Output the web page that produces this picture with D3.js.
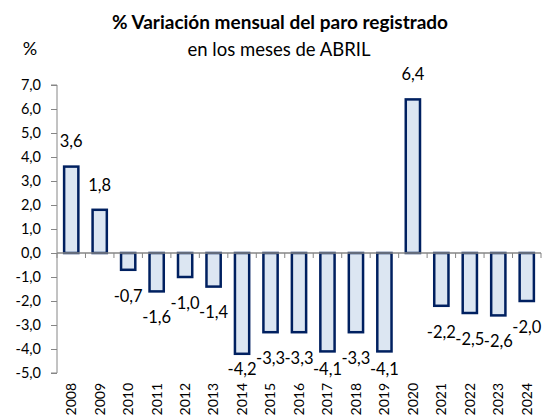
<!DOCTYPE html>
<html>
<head>
<meta charset="utf-8">
<script src="https://cdn.jsdelivr.net/npm/d3@7"></script>
<style>
  body { margin: 0; background: #fff; }
  text { font-family: Lato, "Open Sans", sans-serif; fill: #000; }
</style>
</head>
<body>
<svg id="chart" width="544" height="416"></svg>
<script>
  // years and april monthly change of registered unemployment (%)
  var years = ['2008', '2009', '2010', '2011', '2012', '2013', '2014', '2015', '2016',
    '2017', '2018', '2019', '2020', '2021', '2022', '2023', '2024'];
  var values = [3.6, 1.8, -0.7, -1.6, -1.0, -1.4, -4.2, -3.3, -3.3,
    -4.1, -3.3, -4.1, 6.4, -2.2, -2.5, -2.6, -2.0];
  var yTicks = [7, 6, 5, 4, 3, 2, 1, 0, -1, -2, -3, -4, -5];

  (function() {
    'use strict';

    var svg = d3.select('#chart');
    var plotLeft = 57, plotRight = 541, plotTop = 85, plotBottom = 373;
    var fmt = function(v) { return d3.format('.1f')(v).replace('.', ',').replace('−', '-'); };

    var x = d3.scaleBand().domain(years).range([plotLeft, plotRight]).paddingInner(0.5).paddingOuter(0.25);
    var y = d3.scaleLinear().domain([-5, 7]).range([plotBottom, plotTop]);

    // titles
    svg.append('text').attr('x', 280).attr('y', 29).attr('text-anchor', 'middle')
      .style('font-size', '19px').style('font-weight', 'bold')
      .text('% Variación mensual del paro registrado');
    svg.append('text').attr('x', 279).attr('y', 56).attr('text-anchor', 'middle')
      .style('font-size', '18.5px').text('en los meses de ABRIL');
    svg.append('text').attr('x', 30).attr('y', 55).attr('text-anchor', 'middle')
      .style('font-size', '18px').text('%');

    // y axis
    var yAxis = svg.append('g').attr('transform', 'translate(' + plotLeft + ',0)')
      .call(d3.axisLeft(y).tickValues(yTicks).tickSize(6).tickPadding(10).tickFormat(fmt));
    yAxis.select('.domain').attr('stroke', '#868686')
      .attr('d', 'M-6,' + plotTop + 'H0V' + plotBottom + 'H-6');
    yAxis.selectAll('.tick line').attr('stroke', '#868686');
    yAxis.selectAll('.tick text').style('font-size', '14.5px');

    // bars
    svg.selectAll('.bar').data(values).enter().append('rect')
      .attr('class', 'bar')
      .attr('x', function(d, i) { return x(years[i]); })
      .attr('width', x.bandwidth())
      .attr('y', function(d) { return y(Math.max(0, d)); })
      .attr('height', function(d) { return Math.abs(y(d) - y(0)); })
      .attr('fill', '#dce6f2')
      .attr('stroke', '#002060')
      .attr('stroke-width', 2.5);

    // zero line with category ticks
    var catW = (plotRight - plotLeft) / years.length;
    svg.append('line').attr('x1', plotLeft).attr('x2', plotRight).attr('y1', y(0)).attr('y2', y(0))
      .attr('stroke', '#868686').attr('stroke-width', 1.5);
    svg.selectAll('.ctick').data(d3.range(years.length + 1)).enter().append('line')
      .attr('x1', function(i) { return plotLeft + i * catW; })
      .attr('x2', function(i) { return plotLeft + i * catW; })
      .attr('y1', y(0)).attr('y2', y(0) + 5)
      .attr('stroke', '#868686');

    // value labels
    svg.selectAll('.lbl').data(values).enter().append('text')
      .attr('class', 'lbl')
      .attr('x', function(d, i) { return x(years[i]) + x.bandwidth() / 2; })
      .attr('y', function(d) {
        return d >= 0 ? y(d) - 25 : Math.min(y(d) + 26, 369);
      })
      .attr('dy', '0.35em')
      .attr('text-anchor', 'middle')
      .style('font-size', '16.5px')
      .text(fmt);

    // year labels
    svg.selectAll('.yr').data(years).enter().append('text')
      .attr('class', 'yr')
      .attr('transform', function(d) {
        return 'translate(' + (x(d) + x.bandwidth() / 2) + ',383) rotate(-90)';
      })
      .attr('dy', '0.35em')
      .attr('text-anchor', 'end')
      .style('font-size', '14px')
      .text(function(d) { return d; });
  })();
</script>
</body>
</html>
